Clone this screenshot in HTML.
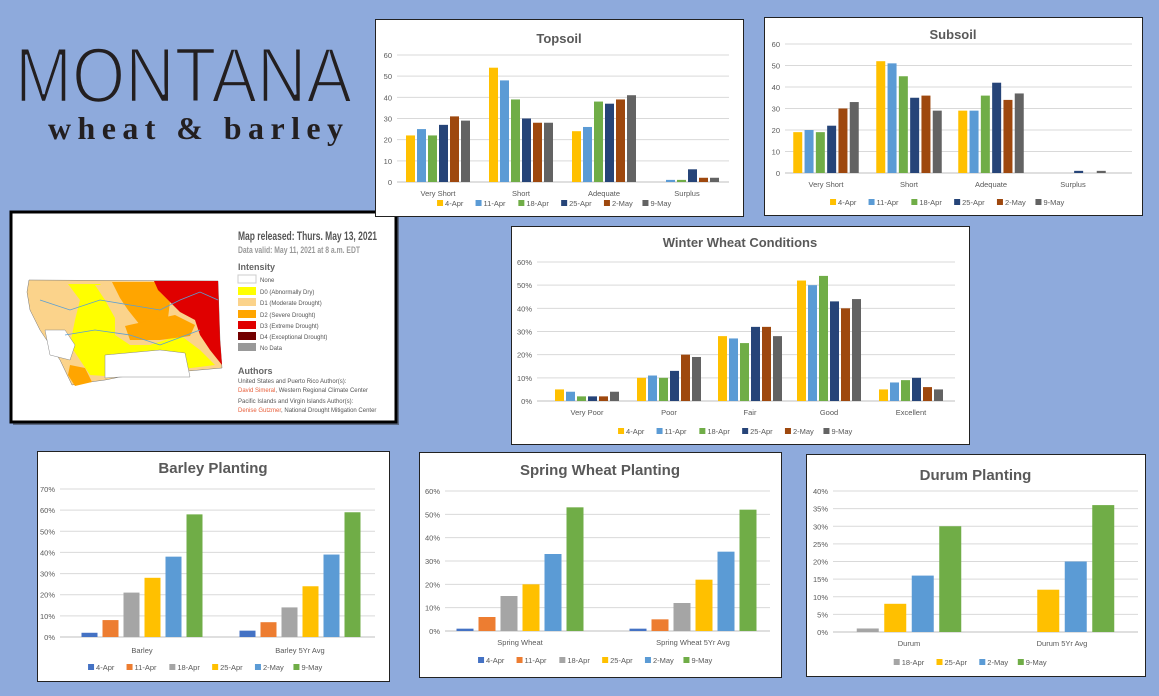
<!DOCTYPE html>
<html><head><meta charset="utf-8"><style>
html,body{margin:0;padding:0;background:#8eaadc;width:1159px;height:696px;overflow:hidden;font-family:"Liberation Sans",sans-serif}
svg{position:absolute;left:0;top:0}
</style></head><body>
<svg id="s" width="1159" height="696" xmlns="http://www.w3.org/2000/svg">
<rect width="1159" height="696" fill="#8eaadc"/>
<text x="15" y="102" font-family="Liberation Sans" font-size="78" fill="#231f20" stroke="#8eaadc" stroke-width="2.5" textLength="337" lengthAdjust="spacingAndGlyphs">MONTANA</text>
<text x="48" y="139" font-family="Liberation Serif" font-weight="bold" font-size="32" fill="#231f20" textLength="295" lengthAdjust="spacing">wheat &amp; barley</text>
<!-- map panel -->
<rect x="13" y="214" width="386" height="211" fill="#2a2a2a" opacity="0.5"/>
<rect x="11" y="212" width="385" height="210" fill="#fff" stroke="#000" stroke-width="3"/>
<g>
<polygon points="29,280 218,281 220,340 222,368 120,377 105,380 90,382 72,385 60,360 50,345 40,330 30,310 27,292" fill="#fbd38b" stroke="#777" stroke-width="0.5"/>
<polygon points="68,284 100,284 115,305 115,335 130,345 150,345 180,335 200,350 215,365 120,377 90,375 80,360 70,345 75,320 80,300" fill="#ffff00"/>
<polygon points="95,285 150,285 165,300 175,310 190,305 200,330 190,335 170,338 150,340 125,335 115,318 105,300" fill="#fbd38b"/>
<polygon points="112,282 155,282 160,292 170,302 168,318 140,325 128,310 120,298" fill="#ffa500"/>
<polygon points="154,281 218,281 220,340 222,365 210,350 200,335 195,320 180,312 168,300 158,290" fill="#e00000"/>
<polygon points="125,326 175,315 195,325 190,336 160,340 130,340" fill="#ffa500"/>
<polygon points="105,355 160,350 185,353 190,377 120,377 105,378" fill="#fff" stroke="#888" stroke-width="0.5"/>
<polygon points="45,330 65,330 75,345 70,360 50,355" fill="#fff" stroke="#888" stroke-width="0.5"/>
<polygon points="70,365 85,368 92,382 75,386 68,375" fill="#ffa500"/>
<polyline points="40,300 70,310 100,300 130,305 160,310 180,300 200,292 218,300" fill="none" stroke="#5a9fd4" stroke-width="0.8"/>
<polyline points="65,335 95,330 130,335 160,345 200,330" fill="none" stroke="#5a9fd4" stroke-width="0.8"/>
</g>
<text x="238" y="240" font-size="12" font-weight="bold" fill="#555" textLength="139" lengthAdjust="spacingAndGlyphs">Map released: Thurs. May 13, 2021</text>
<text x="238" y="253" font-size="9" font-weight="bold" fill="#999" textLength="122" lengthAdjust="spacingAndGlyphs">Data valid: May 11, 2021 at 8 a.m. EDT</text>
<text x="238" y="270" font-size="9" font-weight="bold" fill="#666">Intensity</text>
<g font-size="6" fill="#555">
<rect x="238" y="275" width="18" height="8" fill="#fff" stroke="#ccc"/><text x="260" y="282">None</text>
<rect x="238" y="287" width="18" height="8" fill="#ffff00"/><text x="260" y="294">D0 (Abnormally Dry)</text>
<rect x="238" y="298" width="18" height="8" fill="#fbd38b"/><text x="260" y="305">D1 (Moderate Drought)</text>
<rect x="238" y="310" width="18" height="8" fill="#ffa500"/><text x="260" y="317">D2 (Severe Drought)</text>
<rect x="238" y="321" width="18" height="8" fill="#e00000"/><text x="260" y="328">D3 (Extreme Drought)</text>
<rect x="238" y="332" width="18" height="8" fill="#730000"/><text x="260" y="339">D4 (Exceptional Drought)</text>
<rect x="238" y="343" width="18" height="8" fill="#999"/><text x="260" y="350">No Data</text>
<text x="238" y="374" font-size="9" font-weight="bold" fill="#666">Authors</text>
<text x="238" y="383">United States and Puerto Rico Author(s):</text>
<text x="238" y="392"><tspan fill="#e8603c">David Simeral</tspan>, Western Regional Climate Center</text>
<text x="238" y="403">Pacific Islands and Virgin Islands Author(s):</text>
<text x="238" y="412"><tspan fill="#e8603c">Denise Gutzmer</tspan>, National Drought Mitigation Center</text>
</g>
<g id="charts"></g>
</svg>
<script>
var C6=["#ffc000","#5b9bd5","#70ad47","#264478","#9e480e","#636363"];
var L6=["4-Apr","11-Apr","18-Apr","25-Apr","2-May","9-May"];
var P6=["#4472c4","#ed7d31","#a5a5a5","#ffc000","#5b9bd5","#70ad47"];
var charts=[
{box:[375,19,368,197],title:"Topsoil",ty:43,tfs:13,gx:[397,729],y0:182,y1:55,max:60,step:10,pct:false,cats:["Very Short","Short","Adequate","Surplus"],cx:[438,521,604,687],slot:11,bw:9,cy:196,ly:206,lcx:559,
 data:[[22,25,22,27,31,29],[54,48,39,30,28,28],[24,26,38,37,39,41],[0,1,1,6,2,2]],col:C6,leg:L6},
{box:[764,17,378,198],title:"Subsoil",ty:39,tfs:13,gx:[785,1132],y0:173,y1:44,max:60,step:10,pct:false,cats:["Very Short","Short","Adequate","Surplus"],cx:[826,909,991,1073],slot:11.3,bw:9,cy:187,ly:205,lcx:952,
 data:[[19,20,19,22,30,33],[52,51,45,35,36,29],[29,29,36,42,34,37],[0,0,0,1,0,1]],col:C6,leg:L6},
{box:[511,226,458,218],title:"Winter Wheat Conditions",ty:247,tfs:13,gx:[537,955],y0:401,y1:262,max:60,step:10,pct:true,cats:["Very Poor","Poor","Fair","Good","Excellent"],cx:[587,669,750,829,911],slot:11,bw:9,cy:415,ly:434,lcx:740,
 data:[[5,4,2,2,2,4],[10,11,10,13,20,19],[28,27,25,32,32,28],[52,50,54,43,40,44],[5,8,9,10,6,5]],col:C6,leg:L6},
{box:[37,451,352,230],title:"Barley Planting",ty:473,tfs:15,gx:[60,375],y0:637,y1:489,max:70,step:10,pct:true,cats:["Barley","Barley 5Yr Avg"],cx:[142,300],slot:21,bw:16,cy:653,ly:670,lcx:210,
 data:[[2,8,21,28,38,58],[3,7,14,24,39,59]],col:P6,leg:L6},
{box:[419,452,362,225],title:"Spring Wheat Planting",ty:475,tfs:15,gx:[445,770],y0:631,y1:491,max:60,step:10,pct:true,cats:["Spring Wheat","Spring Wheat 5Yr Avg"],cx:[520,693],slot:22,bw:17,cy:645,ly:663,lcx:600,
 data:[[1,6,15,20,33,53],[1,5,12,22,34,52]],col:P6,leg:L6},
{box:[806,454,339,222],title:"Durum Planting",ty:480,tfs:15,gx:[833,1138],y0:632,y1:491,max:40,step:5,pct:true,cats:["Durum","Durum 5Yr Avg"],cx:[909,1062],slot:27.5,bw:22,cy:646,ly:665,lcx:975,
 data:[[1,8,16,30],[0,12,20,36]],col:["#a5a5a5","#ffc000","#5b9bd5","#70ad47"],leg:["18-Apr","25-Apr","2-May","9-May"]}
];
var h="";
charts.forEach(function(c){
 var b=c.box;
 h+='<rect x="'+(b[0]+0.5)+'" y="'+(b[1]+0.5)+'" width="'+b[2]+'" height="'+b[3]+'" fill="#fff" stroke="#222" stroke-width="1"/>';
 h+='<text x="'+(b[0]+b[2]/2)+'" y="'+c.ty+'" text-anchor="middle" font-size="'+c.tfs+'" font-weight="bold" fill="#595959">'+c.title+'</text>';
 for(var v=0;v<=c.max;v+=c.step){
  var y=c.y0-(c.y0-c.y1)*v/c.max;
  h+='<line x1="'+c.gx[0]+'" x2="'+c.gx[1]+'" y1="'+y+'" y2="'+y+'" stroke="'+(v==0?"#bfbfbf":"#d9d9d9")+'" stroke-width="1"/>';
  h+='<text x="'+(c.gx[0]-5)+'" y="'+(y+3)+'" text-anchor="end" font-size="7.5" fill="#595959">'+v+(c.pct?"%":"")+'</text>';
 }
 var n=c.col.length;
 c.data.forEach(function(d,i){
  var cx=c.cx[i];
  d.forEach(function(val,j){
   if(!val)return;
   var x=cx+(j-(n-1)/2)*c.slot-c.bw/2;
   var hh=(c.y0-c.y1)*val/c.max;
   h+='<rect x="'+x+'" y="'+(c.y0-hh)+'" width="'+c.bw+'" height="'+hh+'" fill="'+c.col[j]+'"/>';
  });
  h+='<text x="'+cx+'" y="'+c.cy+'" text-anchor="middle" font-size="7.5" fill="#595959">'+c.cats[i]+'</text>';
 });
 var ws=c.leg.map(function(t){return 9+t.length*4.3+8;});
 var tot=ws.reduce(function(a,b){return a+b;},0);
 var x=c.lcx-tot/2;
 c.leg.forEach(function(t,j){
  h+='<rect x="'+x+'" y="'+(c.ly-6)+'" width="6" height="6" fill="'+c.col[j]+'"/>';
  h+='<text x="'+(x+8)+'" y="'+c.ly+'" font-size="7.5" fill="#595959">'+t+'</text>';
  x+=ws[j];
 });
});
document.getElementById("charts").innerHTML=h;
</script>
</body></html>
